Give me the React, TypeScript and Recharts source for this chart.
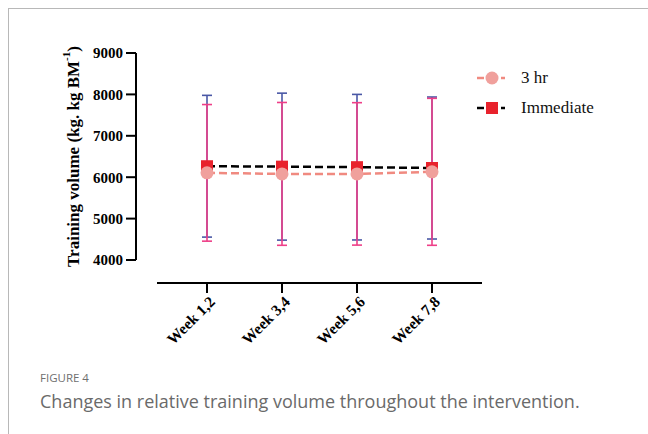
import { LineChart, Line, XAxis, YAxis, ErrorBar } from 'recharts'

const weeks = ['Week 1,2', 'Week 3,4', 'Week 5,6', 'Week 7,8']
const hr3Mean = [6105, 6080, 6080, 6130]
const hr3Err = [1650, 1725, 1720, 1775]
const immMean = [6265, 6255, 6242, 6222]
const immErr = [1712, 1775, 1758, 1715]
const yTicks = [4000, 5000, 6000, 7000, 8000, 9000]
const yDomain = [4000, 9000]

const data = weeks.map((w, i) => ({
  week: w,
  hr3: hr3Mean[i],
  hr3Err: hr3Err[i],
  imm: immMean[i],
  immErr: immErr[i],
}))

const SALMON = '#f08a80'
const CIRCLE = '#f0a09c'
const RED = '#e8222c'
const PINK = '#ee3f88'
const NAVY = '#4a58a6'
const SERIF = '"Liberation Serif", "Times New Roman", serif'

// chart frame shared by the three overlaid layers
const W = 648
const H = 360
const TOP = 53
const PLOT_BOTTOM = 260
const X_AXIS_Y = 283
const PLOT_LEFT = 157
const PLOT_RIGHT = 482
const Y_AXIS_X = 136
const X_PAD = { left: 50, right: 50 }

function SquareDot(props: any) {
  const { cx, cy } = props
  if (cx == null || cy == null) return null
  return <rect x={cx - 6} y={cy - 6} width={12} height={12} fill={RED} />
}

function CircleDot(props: any) {
  const { cx, cy } = props
  if (cx == null || cy == null) return null
  return <circle cx={cx} cy={cy} r={6.5} fill={CIRCLE} />
}

function WeekTick(props: any) {
  const { x, y, payload } = props
  const tx = x + 5
  const ty = y + 4
  return (
    <text
      x={tx}
      y={ty}
      transform={`rotate(-45, ${tx}, ${ty})`}
      textAnchor="end"
      dominantBaseline="central"
      fontFamily={SERIF}
      fontWeight="bold"
      fontSize={15.5}
      fill="#000"
    >
      {payload.value}
    </text>
  )
}

function YTitle(props: any) {
  const { viewBox } = props
  const cx = viewBox.x + viewBox.width - 63
  const cy = viewBox.y + viewBox.height / 2
  return (
    <text
      x={cx}
      y={cy}
      transform={`rotate(-90, ${cx}, ${cy})`}
      textAnchor="middle"
      dominantBaseline="central"
      fontFamily={SERIF}
      fontWeight="bold"
      fontSize={17}
      fill="#000"
    >
      Training volume (kg. kg BM
      <tspan dy={-7} fontSize={11}>-1</tspan>
      <tspan dy={7}>)</tspan>
    </text>
  )
}

function LegendBox() {
  const items = [
    { label: '3 hr', color: SALMON, marker: 'circle' },
    { label: 'Immediate', color: '#000', marker: 'square' },
  ]
  return (
    <div style={{ fontFamily: SERIF, fontSize: 17 }}>
      {items.map((it) => (
        <div key={it.label} style={{ display: 'flex', alignItems: 'center', height: 30 }}>
          <svg width={40} height={20} style={{ marginRight: 6 }}>
            <line x1={2} y1={10} x2={9} y2={10} stroke={it.color} strokeWidth={2.5} />
            <line x1={26} y1={10} x2={30} y2={10} stroke={it.color} strokeWidth={2.5} />
            {it.marker === 'circle' ? (
              <circle cx={17} cy={10} r={6.5} fill={CIRCLE} />
            ) : (
              <rect x={11} y={4} width={12} height={12} fill={RED} />
            )}
          </svg>
          <span style={{ color: '#111' }}>{it.label}</span>
        </div>
      ))}
    </div>
  )
}

const layer = { position: 'absolute' as const, left: 0, top: 0 }

export default function App() {
  return (
    <div style={{ position: 'relative', width: 648, height: 434, background: '#fff' }}>
      <style>{`body { margin: 0; overflow: hidden; }`}</style>
      <div
        style={{
          position: 'absolute',
          left: 8,
          top: 8,
          right: 0,
          bottom: 0,
          borderTop: '1.5px solid #b8b8b8',
          borderLeft: '1.5px solid #b8b8b8',
        }}
      />

      {/* y axis layer, offset left of the data */}
      <div style={layer}>
        <LineChart
          width={W}
          height={H}
          data={data}
          margin={{ top: TOP, right: W - PLOT_RIGHT, bottom: H - PLOT_BOTTOM, left: 0 }}
        >
          <XAxis dataKey="week" hide />
          <YAxis
            width={Y_AXIS_X}
            domain={yDomain}
            ticks={yTicks}
            interval={0}
            axisLine={{ stroke: '#000', strokeWidth: 2 }}
            tickLine={{ stroke: '#000', strokeWidth: 2 }}
            tickSize={10}
            tickMargin={3}
            tick={{ fontFamily: SERIF, fontWeight: 'bold', fontSize: 15, fill: '#000' }}
            label={<YTitle />}
          />
          <Line dataKey="imm" stroke="none" dot={false} activeDot={false} isAnimationActive={false} />
        </LineChart>
      </div>

      {/* x axis layer, offset below the data */}
      <div style={layer}>
        <LineChart
          width={W}
          height={H}
          data={data}
          margin={{ top: TOP, right: W - PLOT_RIGHT, bottom: 0, left: PLOT_LEFT }}
        >
          <YAxis hide domain={yDomain} />
          <XAxis
            dataKey="week"
            padding={X_PAD}
            axisLine={{ stroke: '#000', strokeWidth: 2 }}
            tickLine={{ stroke: '#000', strokeWidth: 2 }}
            tickSize={10}
            tick={<WeekTick />}
            interval={0}
            height={H - X_AXIS_Y}
          />
        </LineChart>
      </div>

      {/* data layer */}
      <div style={layer}>
        <LineChart
          width={W}
          height={H}
          data={data}
          margin={{ top: TOP, right: W - PLOT_RIGHT, bottom: H - PLOT_BOTTOM, left: PLOT_LEFT }}
        >
          <XAxis dataKey="week" hide padding={X_PAD} />
          <YAxis hide domain={yDomain} />
          <Line
            dataKey="imm"
            stroke="#000"
            strokeWidth={2.5}
            strokeDasharray="8 4"
            dot={<SquareDot />}
            activeDot={false}
            isAnimationActive={false}
          >
            <ErrorBar dataKey="immErr" direction="y" width={5} stroke={NAVY} strokeWidth={1.6} />
          </Line>
          <Line
            dataKey="hr3"
            stroke={SALMON}
            strokeWidth={2.5}
            strokeDasharray="8 4"
            dot={<CircleDot />}
            activeDot={false}
            isAnimationActive={false}
          >
            <ErrorBar dataKey="hr3Err" direction="y" width={5} stroke={PINK} strokeWidth={1.6} />
          </Line>
        </LineChart>
      </div>

      <div style={{ position: 'absolute', left: 475, top: 63, width: 160 }}>
        <LegendBox />
      </div>

      <div
        style={{
          position: 'absolute',
          left: 40,
          top: 370,
          fontFamily: '"Open Sans", sans-serif',
          fontSize: 11.5,
          color: '#6f6f6f',
        }}
      >
        FIGURE 4
      </div>
      <div
        style={{
          position: 'absolute',
          left: 40,
          top: 389,
          fontFamily: '"Open Sans", sans-serif',
          fontSize: 18,
          color: '#6a6a6a',
        }}
      >
        Changes in relative training volume throughout the intervention.
      </div>
    </div>
  )
}
